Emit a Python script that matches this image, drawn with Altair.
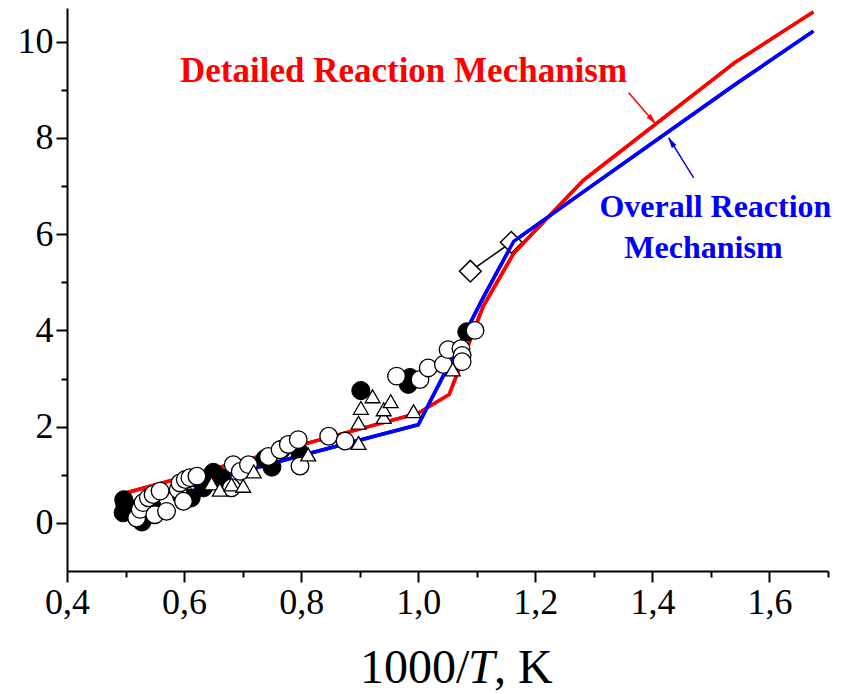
import altair as alt
import pandas as pd

FONT = "Liberation Serif"

# model curves (1000/T, value)
red_x = [0.5, 0.8, 1.0, 1.053, 1.111, 1.163, 1.282, 1.540, 1.675]
red_y = [0.62, 1.62, 2.28, 2.67, 4.50, 5.60, 7.12, 9.56, 10.62]
blue_x = [0.5, 0.8, 1.0, 1.053, 1.111, 1.163, 1.282, 1.540, 1.675]
blue_y = [0.40, 1.40, 2.04, 3.30, 4.68, 5.85, 6.88, 9.10, 10.22]

# experimental points
filled_x = [0.499, 0.496, 0.497, 0.528, 0.545, 0.596, 0.612, 0.633, 0.639, 0.650, 0.664,
            0.738, 0.750, 0.767, 0.798, 0.902, 0.986, 0.983, 1.083]
filled_y = [0.38, 0.21, 0.48, 0.02, 0.35, 0.55, 0.52, 0.73, 0.90, 1.05, 0.94,
            1.33, 1.16, 1.53, 1.46, 2.75, 3.02, 2.88, 3.97]

open_x = [0.519, 0.525, 0.530, 0.539, 0.547, 0.559, 0.550, 0.570, 0.590, 0.593, 0.602,
          0.610, 0.622, 0.599, 0.684, 0.696, 0.710, 0.681, 0.744, 0.764, 0.778, 0.795,
          0.798, 0.847, 0.875, 0.963, 1.003, 1.017, 1.043, 1.051, 1.073, 1.075, 1.075, 1.097]
open_y = [0.10, 0.28, 0.42, 0.52, 0.59, 0.66, 0.17, 0.24, 0.69, 0.83, 0.90,
          0.94, 0.97, 0.45, 1.21, 1.07, 1.21, 0.73, 1.38, 1.52, 1.63, 1.73,
          1.18, 1.80, 1.70, 3.05, 2.98, 3.22, 3.29, 3.60, 3.62, 3.48, 3.35, 4.00]

tri_x = [0.647, 0.661, 0.681, 0.701, 0.719, 0.812, 0.898, 0.898, 0.902, 0.922, 0.941,
         0.941, 0.953, 0.992, 1.059]
tri_y = [0.82, 0.69, 0.80, 0.77, 1.07, 1.42, 1.66, 2.08, 2.39, 2.63, 2.20,
         2.36, 2.53, 2.32, 3.19]

dia_x = [1.089, 1.159]
dia_y = [5.23, 5.83]

# axis ticks
x_major = [0.4, 0.6, 0.8, 1.0, 1.2, 1.4, 1.6]
x_minor = [0.5, 0.7, 0.9, 1.1, 1.3, 1.5, 1.7]
y_major = [0, 2, 4, 6, 8, 10]
y_minor = [1, 3, 5, 7, 9]

# annotations
red_label = "Detailed Reaction Mechanism"
blue_label_1 = "Overall Reaction"
blue_label_2 = "Mechanism"
red_arrow = {"x": 1.3595, "y": 8.94, "x2": 1.4051, "y2": 8.30}
blue_arrow = {"x": 1.4706, "y": 7.17, "x2": 1.4279, "y2": 8.00}

W, H = 761, 563
xs = alt.Scale(domain=[0.4, 1.7], nice=False, zero=False)
ys = alt.Scale(domain=[-1, 10.7], nice=False, zero=False)

ax_x_major = alt.Axis(orient="bottom", values=x_major, tickSize=11, tickWidth=2,
                      tickColor="black", domainColor="black", domainWidth=2,
                      labelFont=FONT, labelFontSize=36, labelColor="black",
                      labelPadding=3, labelFlush=False, labelOverlap=False,
                      labelExpr="replace(format(datum.value, '.1f'), '.', ',')",
                      grid=False, title=None)
ax_x_minor = alt.Axis(orient="bottom", values=x_minor, tickSize=6, tickWidth=2,
                      tickColor="black", domain=False, labels=False, grid=False, title=None)
ax_y_major = alt.Axis(orient="left", values=y_major, tickSize=11, tickWidth=2,
                      tickColor="black", domainColor="black", domainWidth=2,
                      labelFont=FONT, labelFontSize=36, labelColor="black",
                      labelPadding=3, labelFlush=False, labelOverlap=False,
                      format="d", grid=False, title=None)
ax_y_minor = alt.Axis(orient="left", values=y_minor, tickSize=6, tickWidth=2,
                      tickColor="black", domain=False, labels=False, grid=False, title=None)

def df(xv, yv):
    return pd.DataFrame({"x": xv, "y": yv})

red_df = df(red_x, red_y)
blue_df = df(blue_x, blue_y)

red_line = alt.Chart(red_df).mark_line(color="#ff0000", strokeWidth=3.5).encode(
    x=alt.X("x:Q", scale=xs, axis=ax_x_major),
    y=alt.Y("y:Q", scale=ys, axis=ax_y_major),
)
blue_line = alt.Chart(blue_df).mark_line(color="#0000ff", strokeWidth=3.5).encode(
    x=alt.X("x:Q", scale=xs, axis=ax_x_minor),
    y=alt.Y("y:Q", scale=ys, axis=ax_y_minor),
)

def enc(c):
    return c.encode(x=alt.X("x:Q", scale=xs, axis=None), y=alt.Y("y:Q", scale=ys, axis=None))

dia_line = enc(alt.Chart(df(dia_x, dia_y)).mark_line(color="black", strokeWidth=1.5))
dia_pts = enc(alt.Chart(df(dia_x, dia_y)).mark_point(
    shape="diamond", size=470, filled=True, fill="white", stroke="black", strokeWidth=1.5, opacity=1))
filled_pts = enc(alt.Chart(df(filled_x, filled_y)).mark_point(
    shape="circle", size=330, filled=True, fill="black", stroke="black", strokeWidth=1, opacity=1))
open_pts = enc(alt.Chart(df(open_x, open_y)).mark_point(
    shape="circle", size=310, filled=True, fill="white", stroke="black", strokeWidth=1.3, opacity=1))
tri_pts = enc(alt.Chart(df(tri_x, tri_y)).mark_point(
    shape="triangle-up", size=220, filled=True, fill="white", stroke="black", strokeWidth=1.3, opacity=1))

def arrow(a, color, angle):
    d = pd.DataFrame([a])
    rule = alt.Chart(d).mark_rule(color=color, strokeWidth=1.5).encode(
        x=alt.X("x:Q", scale=xs, axis=None), y=alt.Y("y:Q", scale=ys, axis=None),
        x2="x2:Q", y2="y2:Q")
    head = alt.Chart(d).mark_point(shape="M0,0L0.5,2L-0.5,2Z", size=100, filled=True,
                                   fill=color, stroke=color, strokeWidth=0.5,
                                   angle=angle, opacity=1).encode(
        x=alt.X("x2:Q", scale=xs, axis=None), y=alt.Y("y2:Q", scale=ys, axis=None))
    return rule + head

red_arrow_c = arrow(red_arrow, "#ff0000", 139)
blue_arrow_c = arrow(blue_arrow, "#0000ff", 328)

lab_df = pd.DataFrame({
    "x": [0.593, 1.5077, 1.4872],
    "y": [9.17, 6.35, 5.50],
    "t": [red_label, blue_label_1, blue_label_2],
})
red_text = alt.Chart(lab_df.iloc[[0]]).mark_text(
    font=FONT, fontSize=35, fontWeight="bold", color="#ff0000", align="left", baseline="alphabetic"
).encode(x=alt.X("x:Q", scale=xs, axis=None), y=alt.Y("y:Q", scale=ys, axis=None), text="t:N")
blue_text = alt.Chart(lab_df.iloc[[1, 2]]).mark_text(
    font=FONT, fontSize=32, fontWeight="bold", color="#0000ff", align="center", baseline="alphabetic"
).encode(x=alt.X("x:Q", scale=xs, axis=None), y=alt.Y("y:Q", scale=ys, axis=None), text="t:N")

# x-axis title with italic T
t1 = alt.Chart(pd.DataFrame({"t": ["1000/"]})).mark_text(
    font=FONT, fontSize=48, color="black", align="left", baseline="alphabetic"
).encode(x=alt.value(293), y=alt.value(675), text="t:N")
t2 = alt.Chart(pd.DataFrame({"t": ["T"]})).mark_text(
    font=FONT, fontSize=48, fontStyle="italic", color="black", align="left", baseline="alphabetic"
).encode(x=alt.value(401), y=alt.value(675), text="t:N")
t3 = alt.Chart(pd.DataFrame({"t": [", K"]})).mark_text(
    font=FONT, fontSize=48, color="black", align="left", baseline="alphabetic"
).encode(x=alt.value(427), y=alt.value(675), text="t:N")

chart = alt.layer(
    red_line, blue_line, dia_line, dia_pts,
    red_line.encode(x=alt.X("x:Q", scale=xs, axis=None), y=alt.Y("y:Q", scale=ys, axis=None)),
    blue_line.encode(x=alt.X("x:Q", scale=xs, axis=None), y=alt.Y("y:Q", scale=ys, axis=None)),
    filled_pts, open_pts, tri_pts,
    red_arrow_c, blue_arrow_c, red_text, blue_text, t1, t2, t3,
).resolve_axis(x="independent", y="independent").properties(
    width=W, height=H,
    autosize=alt.AutoSizeParams(type="none"),
    padding={"left": 67, "top": 8, "right": 17, "bottom": 123},
    background="white",
).configure_view(strokeWidth=0).configure_axis(
    labelFont=FONT, labelFontSize=36, labelColor="black"
).configure_text(font=FONT)

chart.save("out.html", embed_options={"renderer": "svg", "actions": False})
